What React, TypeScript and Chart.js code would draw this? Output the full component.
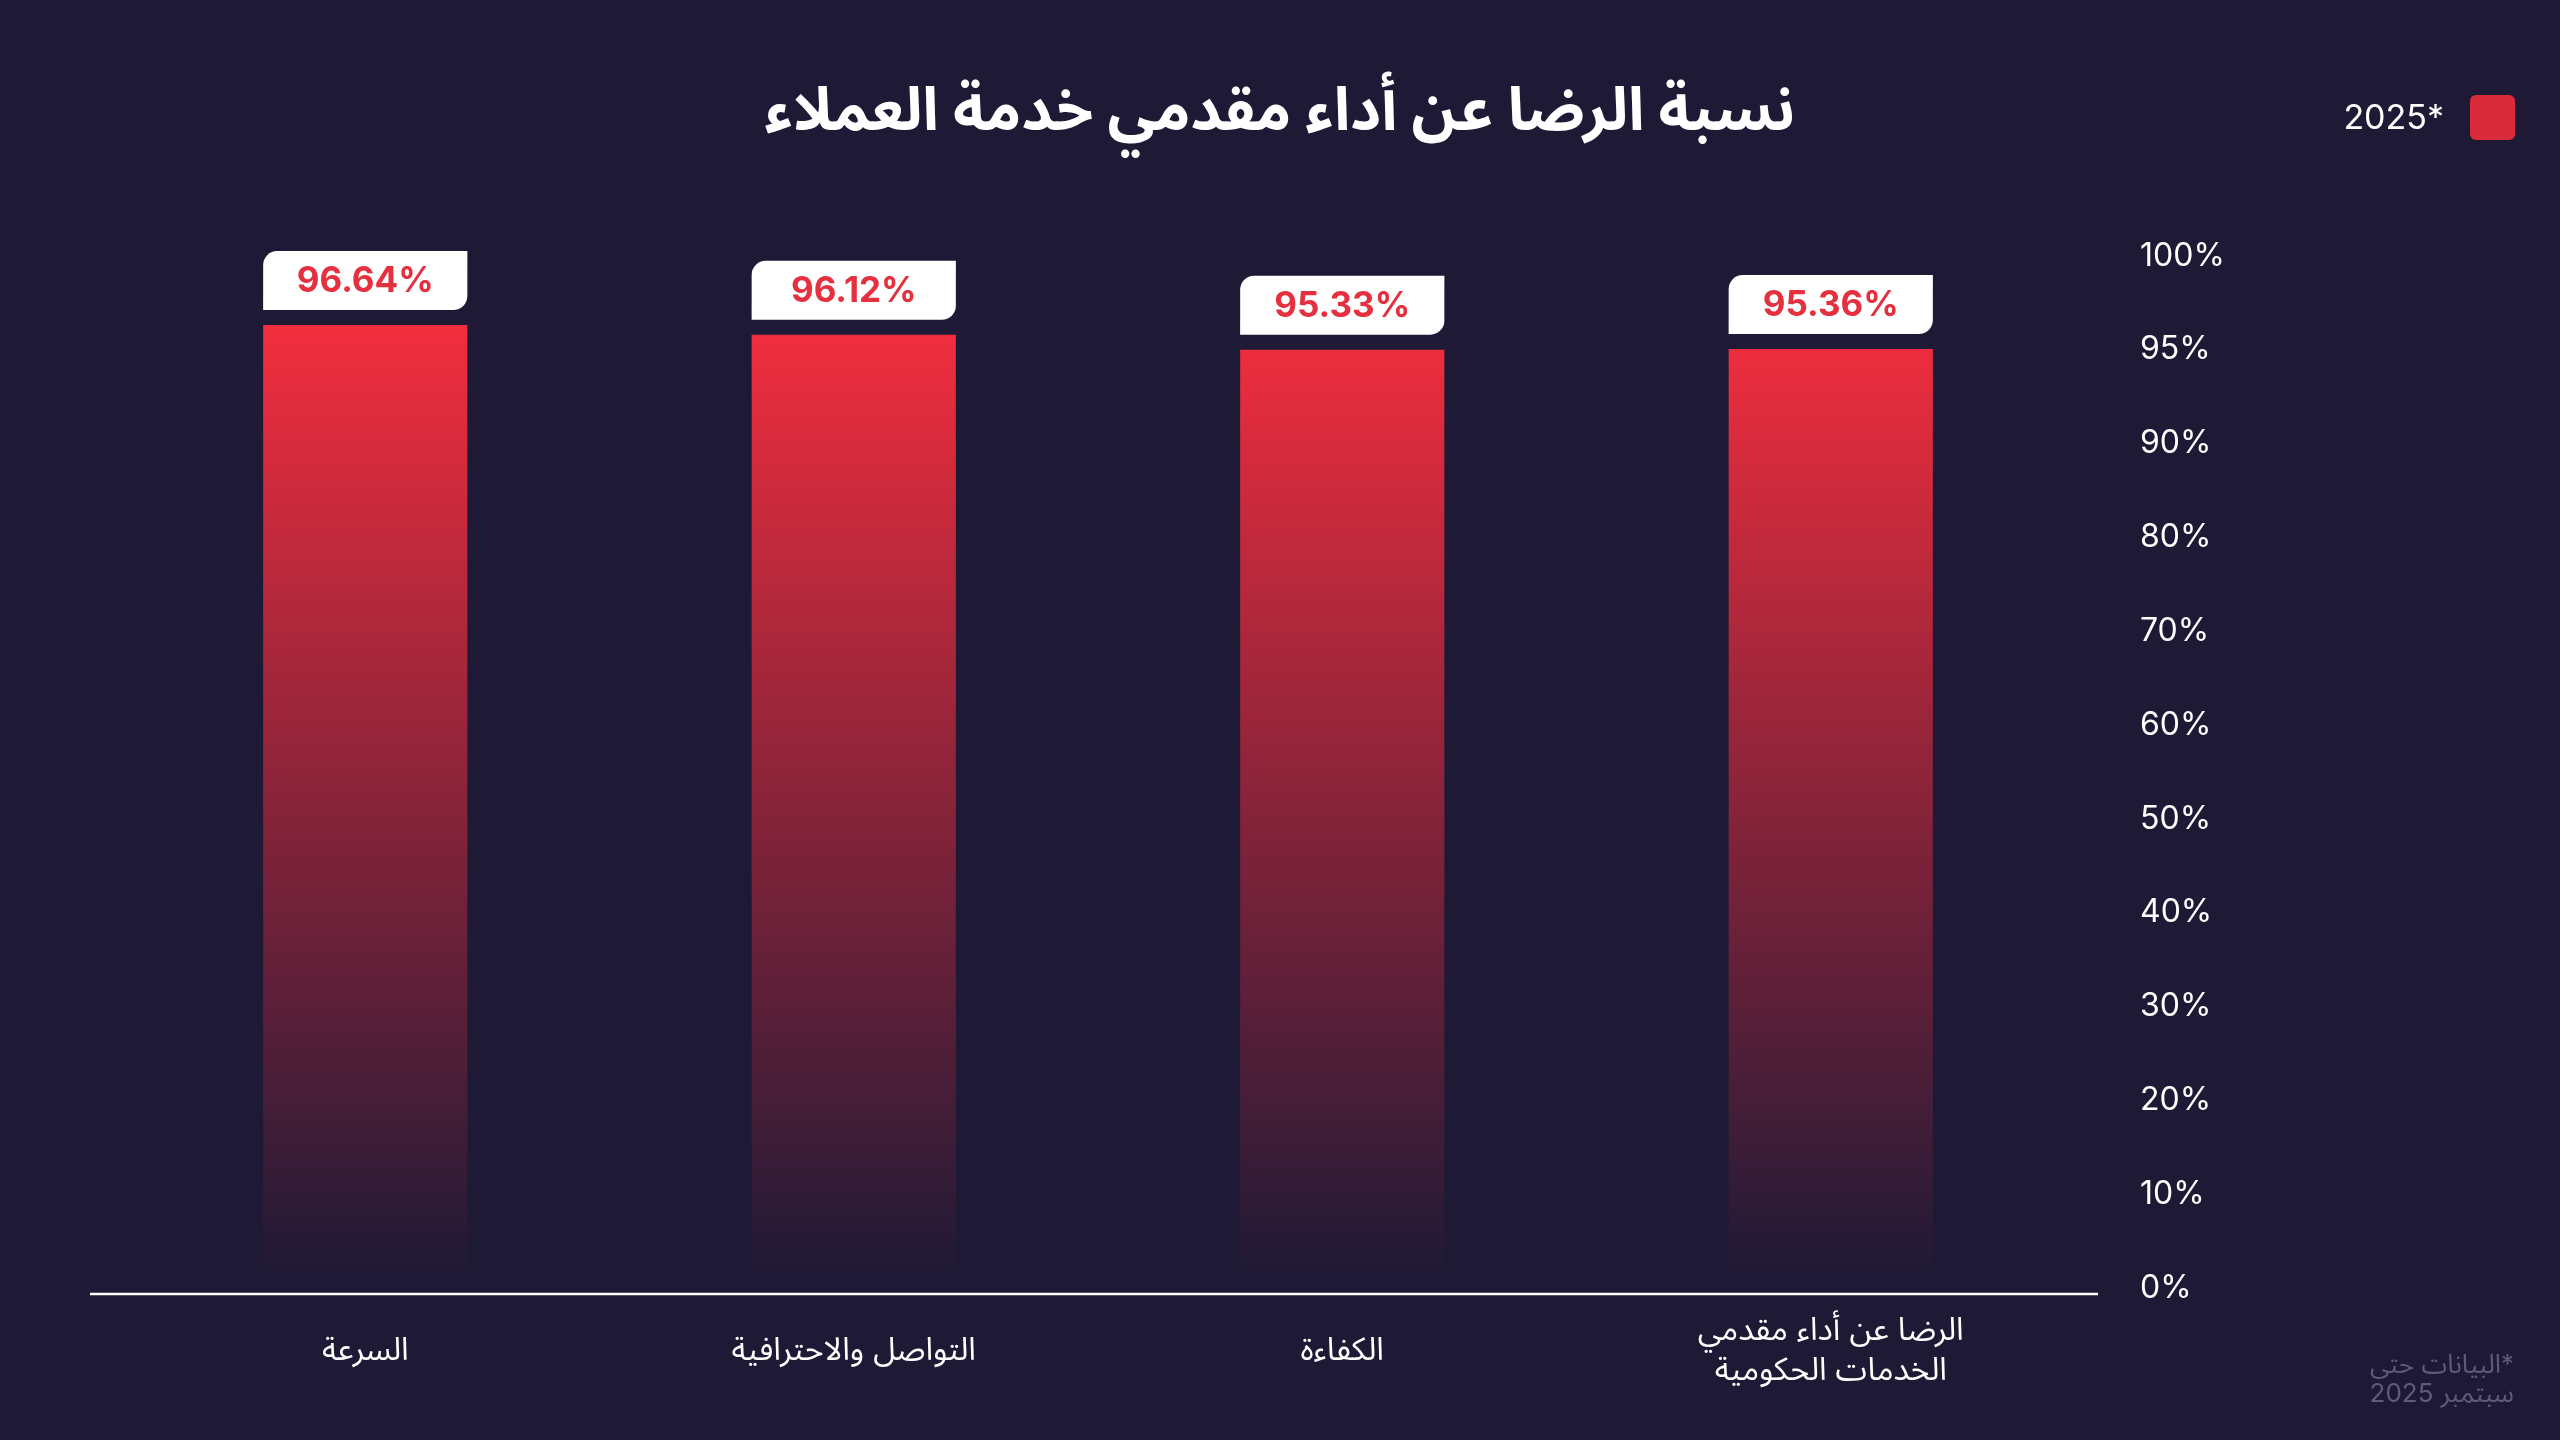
import React, { useEffect, useRef } from "react";
import { Chart, registerables, LinearScale, ChartConfiguration, Plugin } from "chart.js";

// chart values
const categories = [
  "السرعة",
  "التواصل والاحترافية",
  "الكفاءة",
  ["الرضا عن أداء مقدمي", "الخدمات الحكومية"],
];
const satisfaction = [96.64, 96.12, 95.33, 95.36];
const yTicks = [0, 10, 20, 30, 40, 50, 60, 70, 80, 90, 95, 100];
const seriesLabel = "2025*";
const chartTitle = "نسبة الرضا عن أداء مقدمي خدمة العملاء";
const footnote = ["*البيانات حتى", "سبتمبر 2025"];

const BG = "#1e1a36";
const RED = "#e5303f";
const FONT = "Inter, 'Noto Sans Arabic', 'DejaVu Sans', sans-serif";

// y axis where every tick stop gets the same height (0..90 by 10, then 95, 100)
const toUnits = (v: number) => {
  for (let i = 1; i < yTicks.length; i++) {
    if (v <= yTicks[i]) {
      const a = yTicks[i - 1];
      const b = yTicks[i];
      return i - 1 + (v - a) / (b - a);
    }
  }
  return yTicks.length - 1;
};

class StepScale extends LinearScale {
  static id = "step";

  buildTicks() {
    this.start = this.min;
    this.end = this.max;
    return yTicks.map((value) => ({ value }));
  }

  getPixelForValue(value: number) {
    return this.getPixelForDecimal(toUnits(value) / (yTicks.length - 1));
  }

  getValueForPixel(pixel: number) {
    const u = this.getDecimalForPixel(pixel) * (yTicks.length - 1);
    const i = Math.max(0, Math.min(Math.floor(u), yTicks.length - 2));
    return yTicks[i] + (u - i) * (yTicks[i + 1] - yTicks[i]);
  }
}

Chart.register(...registerables, StepScale);

const baseLine: Plugin = {
  id: "baseLine",
  afterDatasetsDraw(chart) {
    const { ctx, chartArea } = chart;
    ctx.save();
    ctx.strokeStyle = "#ffffff";
    ctx.lineWidth = 2.5;
    ctx.beginPath();
    ctx.moveTo(90, chartArea.bottom);
    ctx.lineTo(2098, chartArea.bottom);
    ctx.stroke();
    ctx.restore();
  },
};

const valueTags: Plugin = {
  id: "valueTags",
  afterDatasetsDraw(chart) {
    const { ctx } = chart;
    const meta = chart.getDatasetMeta(0);
    ctx.save();
    meta.data.forEach((bar, i) => {
      const { x, y, width } = bar.getProps(["x", "y", "width"], true) as any;
      const h = 59;
      const top = y - 15 - h;
      ctx.fillStyle = "#ffffff";
      ctx.beginPath();
      ctx.roundRect(x - width / 2, top, width, h, [14, 0, 14, 0]);
      ctx.fill();
      ctx.fillStyle = RED;
      ctx.font = `bold 35px ${FONT}`;
      ctx.textAlign = "center";
      ctx.textBaseline = "middle";
      ctx.fillText(satisfaction[i].toFixed(2) + "%", x, top + h / 2 + 1);
    });
    ctx.restore();
  },
};

const cornerLegend: Plugin = {
  id: "cornerLegend",
  afterDraw(chart) {
    const { ctx } = chart;
    ctx.save();
    ctx.fillStyle = "#d92b3a";
    ctx.beginPath();
    ctx.roundRect(2470, 95, 45, 45, 6);
    ctx.fill();
    ctx.fillStyle = "#ffffff";
    ctx.font = `34px ${FONT}`;
    ctx.textAlign = "right";
    ctx.textBaseline = "middle";
    ctx.fillText(seriesLabel, 2444, 119);
    ctx.restore();
  },
};

const footNote: Plugin = {
  id: "footNote",
  afterDraw(chart) {
    const { ctx } = chart;
    ctx.save();
    ctx.fillStyle = "#5e5a78";
    ctx.font = `26px ${FONT}`;
    ctx.direction = "rtl";
    ctx.textAlign = "right";
    ctx.textBaseline = "middle";
    footnote.forEach((line, i) => ctx.fillText(line, 2514, 1365 + i * 29));
    ctx.restore();
  },
};

export default function App() {
  const canvasRef = useRef<HTMLCanvasElement | null>(null);
  const chartRef = useRef<Chart | null>(null);

  useEffect(() => {
    document.body.style.margin = "0";
    document.body.style.background = BG;
    if (!canvasRef.current) return;
    const ctx = canvasRef.current.getContext("2d");
    if (!ctx) return;

    const config: ChartConfiguration = {
      type: "bar",
      data: {
        labels: categories,
        datasets: [
          {
            label: seriesLabel,
            data: satisfaction,
            borderWidth: 0,
            barPercentage: 1,
            categoryPercentage: 0.418,
            backgroundColor: (c: any) => {
              const chart = c.chart;
              const area = chart.chartArea;
              const yScale = chart.scales.y;
              if (!area || !yScale) return RED;
              const top = yScale.getPixelForValue(Math.max(...satisfaction));
              const g = chart.ctx.createLinearGradient(0, top, 0, area.bottom - 12);
              g.addColorStop(0, "rgba(242, 46, 62, 1)");
              g.addColorStop(1, "rgba(242, 46, 62, 0)");
              return g;
            },
          },
        ],
      },
      options: {
        responsive: true,
        maintainAspectRatio: false,
        animation: false,
        layout: { padding: { left: 121, right: 121, top: 0, bottom: 0 } },
        plugins: {
          legend: { display: false },
          tooltip: { enabled: false },
          title: {
            display: true,
            text: chartTitle,
            color: "#ffffff",
            font: { family: FONT, size: 60, weight: "bold", lineHeight: 1.2 },
            padding: { top: 76, bottom: 114 },
          },
        },
        scales: {
          x: {
            grid: { display: false, drawTicks: false },
            border: { display: false },
            ticks: {
              color: "#ffffff",
              font: { family: FONT, size: 32, lineHeight: 1.27 },
              padding: 36,
              crossAlign: "center",
              maxRotation: 0,
              autoSkip: false,
            },
            afterFit: (s: any) => {
              s.height = 146;
            },
          },
          y: {
            type: "step" as any,
            position: "right",
            min: 0,
            max: 100,
            grid: { display: false, drawTicks: false },
            border: { display: false },
            ticks: {
              color: "#ffffff",
              font: { family: FONT, size: 32 },
              padding: 65,
              labelOffset: -6,
              autoSkip: false,
              callback: (value: any) => value + "%",
            },
            afterFit: (s: any) => {
              s.width = 364;
            },
          },
        } as any,
      },
      plugins: [baseLine, valueTags, cornerLegend, footNote],
    };

    chartRef.current = new Chart(ctx, config);

    return () => {
      if (chartRef.current) {
        chartRef.current.destroy();
        chartRef.current = null;
      }
    };
  }, []);

  return (
    <div style={{ width: 2560, height: 1440, background: BG }}>
      <canvas ref={canvasRef} />
    </div>
  );
}
